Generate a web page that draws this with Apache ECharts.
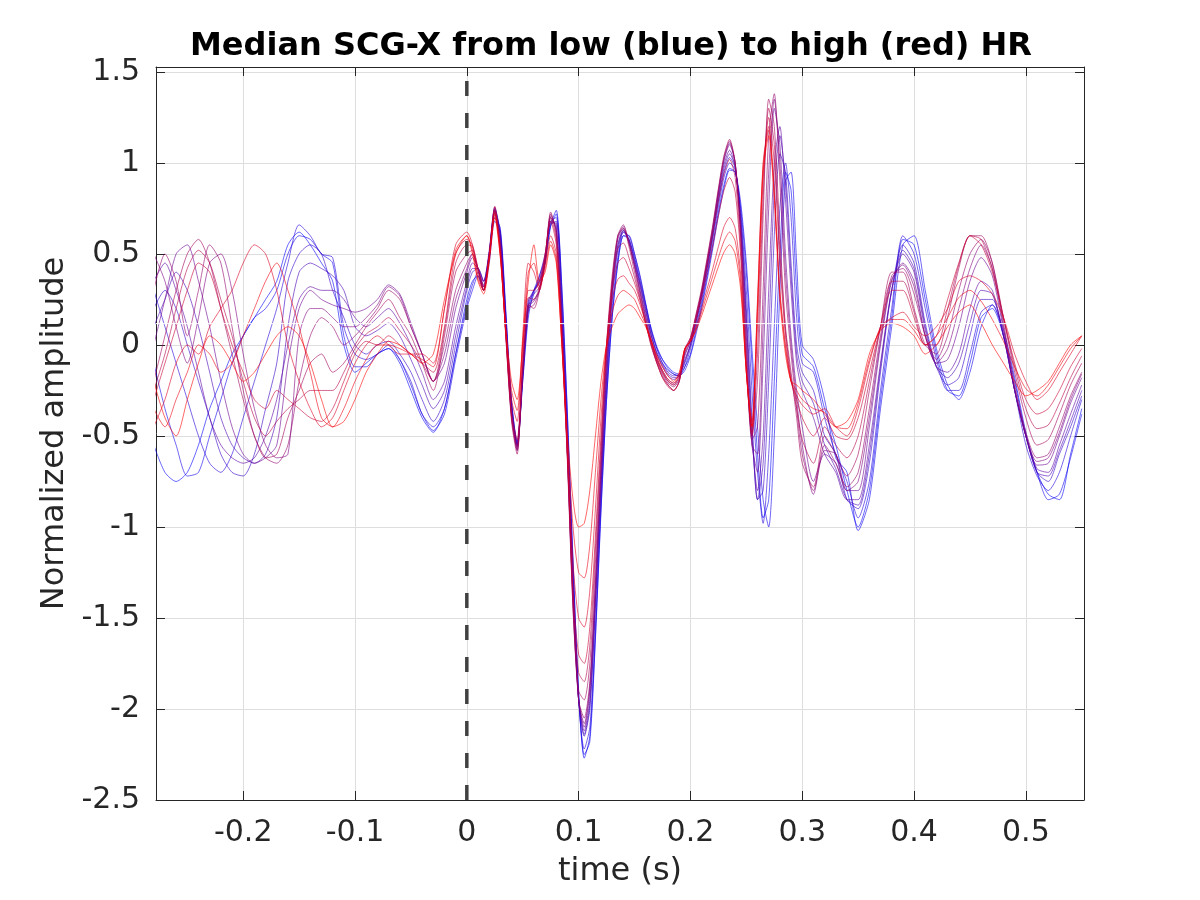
<!DOCTYPE html>
<html><head><meta charset="utf-8">
<script src="https://cdn.jsdelivr.net/npm/echarts@6/dist/echarts.min.js"></script>
<style>html,body{margin:0;padding:0;background:#fff}#c{width:1200px;height:900px}</style>
</head><body><div id="c"></div>
<script>
// time grid (s)
const timePre = [-0.28,-0.27,-0.26,-0.25,-0.24,-0.23,-0.22,-0.21,-0.20,-0.19,-0.18,-0.17,-0.16,-0.15,-0.14,-0.13,-0.12,-0.11,-0.10,-0.09,-0.08,-0.07,-0.06,-0.05,-0.04,-0.03,-0.02,-0.01];
const timePost = [0,0.005,0.01,0.015,0.02,0.025,0.03,0.035,0.04,0.045,
  0.05,0.055,0.06,0.065,0.07,0.075,0.08,0.085,0.09,0.095,
  0.1,0.105,0.11,0.115,0.12,0.125,0.13,0.135,0.14,0.145,
  0.15,0.155,0.16,0.165,0.17,0.175,0.18,0.185,0.19,0.195,
  0.2,0.205,0.21,0.215,0.22,0.225,0.23,0.235,0.24,0.245,
  0.25,0.255,0.26,0.265,0.27,0.275,0.28,0.285,0.29,0.295,
  0.3];
const timeTail = [0.31,0.32,0.33,0.34,0.35,0.36,0.37,0.38,0.39,0.40,0.41,0.42,0.43,0.44,0.45,0.46,0.47,0.48,0.49,0.50,0.51,0.52,0.53,0.54,0.55];

// median SCG-X per HR bin, s01 = lowest HR (blue) ... s15 = highest HR (red)
const s01 = [-0.55,-0.7,-0.75,-0.7,-0.55,-0.35,-0.2,-0.05,0.05,0.15,0.25,0.35,0.55,0.62,0.55,0.45,0.35,0.0,-0.15,-0.1,-0.05,-0.02,-0.1,-0.25,-0.4,-0.48,-0.35,-0.05,
  0.25,0.35,0.38,0.30,0.45,0.68,0.62,0.15,-0.35,-0.55,
  -0.15,0.2,0.3,0.35,0.45,0.65,0.72,0.3,-0.4,-1.2,
  -1.9,-2.27,-2.15,-1.6,-0.9,-0.3,0.15,0.45,0.6,0.58,
  0.48,0.35,0.22,0.08,-0.02,-0.08,-0.12,-0.15,-0.16,-0.12,
  -0.05,0.08,0.22,0.38,0.55,0.73,0.88,0.97,0.95,0.75,
  0.4,-0.1,-0.6,-0.95,-0.85,-0.2,0.5,0.95,0.85,0.3,
  -0.05,
  -0.12,-0.35,-0.55,-0.8,-1.0,-0.8,-0.3,0.15,0.58,0.55,0.25,-0.05,-0.25,-0.28,-0.1,0.15,0.2,0.05,-0.2,-0.5,-0.7,-0.82,-0.85,-0.6,-0.35];
const s02 = [-0.1,-0.35,-0.55,-0.72,-0.7,-0.5,-0.3,-0.1,0.05,0.15,0.2,0.3,0.5,0.6,0.58,0.5,0.45,0.05,-0.12,-0.12,-0.05,-0.02,-0.08,-0.22,-0.38,-0.47,-0.38,-0.08,
  0.2,0.3,0.38,0.3,0.47,0.7,0.64,0.18,-0.33,-0.56,
  -0.2,0.15,0.3,0.38,0.48,0.66,0.74,0.32,-0.38,-1.18,
  -1.92,-2.25,-2.18,-1.62,-0.92,-0.3,0.15,0.44,0.6,0.6,
  0.5,0.38,0.23,0.09,-0.01,-0.08,-0.13,-0.16,-0.17,-0.14,
  -0.06,0.06,0.2,0.36,0.53,0.71,0.86,0.96,0.95,0.78,
  0.45,-0.02,-0.45,-0.85,-1.0,-0.5,0.3,0.9,0.95,0.45,
  0.0,
  -0.08,-0.3,-0.62,-0.7,-1.02,-0.85,-0.35,0.1,0.55,0.6,0.3,-0.02,-0.22,-0.3,-0.15,0.1,0.22,0.08,-0.18,-0.48,-0.7,-0.85,-0.82,-0.62,-0.38];
const s03 = [0.3,0.1,-0.1,-0.3,-0.5,-0.65,-0.7,-0.6,-0.4,-0.2,0.0,0.2,0.45,0.66,0.6,0.5,0.48,0.1,-0.05,-0.08,-0.05,0.0,-0.08,-0.2,-0.38,-0.45,-0.35,-0.05,
  0.22,0.33,0.4,0.32,0.5,0.75,0.62,0.15,-0.3,-0.55,
  -0.2,0.18,0.28,0.38,0.5,0.68,0.7,0.25,-0.45,-1.25,
  -1.95,-2.22,-2.1,-1.55,-0.85,-0.25,0.2,0.48,0.62,0.6,
  0.5,0.37,0.22,0.08,-0.02,-0.1,-0.14,-0.16,-0.17,-0.12,
  -0.02,0.1,0.24,0.4,0.58,0.76,0.92,1.0,0.96,0.72,
  0.3,-0.25,-0.7,-0.98,-0.6,0.1,0.75,1.0,0.7,0.15,
  -0.1,
  -0.15,-0.4,-0.6,-0.75,-0.95,-0.75,-0.25,0.2,0.6,0.5,0.2,-0.08,-0.25,-0.25,-0.05,0.18,0.22,0.05,-0.25,-0.55,-0.72,-0.8,-0.7,-0.5,-0.3];
const s04 = [0.2,0.3,0.2,0.0,-0.2,-0.4,-0.6,-0.7,-0.72,-0.6,-0.35,-0.1,0.35,0.5,0.55,0.5,0.3,0.15,0.0,-0.05,0.0,0.02,-0.05,-0.15,-0.3,-0.42,-0.3,0.0,
  0.3,0.4,0.42,0.35,0.5,0.75,0.6,0.12,-0.32,-0.53,
  -0.18,0.22,0.3,0.36,0.48,0.66,0.68,0.2,-0.5,-1.3,
  -1.95,-2.15,-2.0,-1.45,-0.8,-0.2,0.25,0.52,0.62,0.58,
  0.47,0.34,0.2,0.06,-0.04,-0.1,-0.15,-0.17,-0.16,-0.1,
  0.0,0.12,0.26,0.42,0.6,0.79,0.95,1.03,0.97,0.7,
  0.2,-0.4,-0.85,-0.8,-0.2,0.6,1.05,0.95,0.45,0.0,
  -0.15,
  -0.25,-0.5,-0.6,-0.85,-0.9,-0.65,-0.15,0.3,0.55,0.45,0.12,-0.12,-0.22,-0.18,0.05,0.25,0.25,0.05,-0.25,-0.5,-0.7,-0.75,-0.6,-0.45,-0.28];
const s05 = [0.1,0.25,0.4,0.3,0.1,-0.15,-0.4,-0.55,-0.62,-0.65,-0.6,-0.4,0.1,0.4,0.45,0.42,0.38,0.3,0.1,0.05,0.08,0.12,0.05,-0.08,-0.22,-0.35,-0.25,0.05,
  0.32,0.42,0.42,0.35,0.5,0.74,0.6,0.12,-0.33,-0.54,
  -0.16,0.24,0.3,0.34,0.46,0.67,0.67,0.18,-0.52,-1.32,
  -1.95,-2.14,-1.98,-1.42,-0.78,-0.18,0.28,0.54,0.63,0.58,
  0.46,0.33,0.19,0.05,-0.05,-0.11,-0.16,-0.18,-0.17,-0.09,
  0.0,0.13,0.27,0.43,0.61,0.8,0.97,1.05,0.98,0.68,
  0.15,-0.45,-0.85,-0.65,0.05,0.85,1.15,0.9,0.38,-0.05,
  -0.2,
  -0.32,-0.55,-0.68,-0.85,-0.88,-0.6,-0.12,0.3,0.52,0.42,0.1,-0.12,-0.18,-0.1,0.12,0.3,0.28,0.05,-0.25,-0.5,-0.7,-0.72,-0.58,-0.42,-0.25];
const s06 = [0.35,0.45,0.3,0.1,-0.15,-0.4,-0.55,-0.62,-0.65,-0.62,-0.5,-0.3,0.0,0.25,0.32,0.3,0.3,0.25,0.15,0.1,0.15,0.2,0.12,0.0,-0.15,-0.3,-0.2,0.1,
  0.35,0.45,0.42,0.35,0.52,0.76,0.58,0.1,-0.35,-0.55,
  -0.15,0.25,0.28,0.32,0.45,0.68,0.66,0.15,-0.55,-1.35,
  -1.95,-2.12,-1.95,-1.4,-0.75,-0.15,0.3,0.55,0.63,0.57,
  0.45,0.32,0.18,0.05,-0.05,-0.12,-0.17,-0.19,-0.17,-0.08,
  0.0,0.13,0.28,0.44,0.62,0.82,0.99,1.07,0.98,0.66,
  0.12,-0.5,-0.8,-0.5,0.3,1.0,1.2,0.8,0.3,-0.1,
  -0.25,
  -0.4,-0.6,-0.7,-0.85,-0.85,-0.55,-0.1,0.3,0.5,0.4,0.08,-0.12,-0.15,-0.05,0.2,0.35,0.3,0.05,-0.25,-0.5,-0.68,-0.7,-0.55,-0.38,-0.22];
const s07 = [0.0,0.25,0.5,0.55,0.35,0.1,-0.2,-0.45,-0.6,-0.65,-0.62,-0.55,-0.1,0.2,0.3,0.25,0.22,0.2,0.18,0.2,0.25,0.33,0.28,0.12,-0.05,-0.2,-0.1,0.2,
  0.4,0.48,0.42,0.33,0.5,0.74,0.56,0.08,-0.38,-0.57,
  -0.15,0.22,0.25,0.3,0.45,0.7,0.64,0.12,-0.6,-1.4,
  -1.95,-2.1,-1.9,-1.35,-0.7,-0.1,0.32,0.58,0.64,0.56,
  0.44,0.3,0.16,0.03,-0.07,-0.14,-0.19,-0.21,-0.18,-0.06,
  0.02,0.14,0.28,0.45,0.63,0.83,1.01,1.1,1.0,0.64,
  0.05,-0.55,-0.7,-0.1,0.75,1.3,1.1,0.5,0.05,-0.25,
  -0.45,
  -0.75,-0.6,-0.65,-0.8,-0.8,-0.45,0.0,0.35,0.45,0.35,0.05,-0.1,-0.08,0.1,0.35,0.48,0.38,0.08,-0.25,-0.5,-0.66,-0.65,-0.5,-0.32,-0.18];
const s08 = [0.5,0.35,0.1,-0.1,0.15,0.45,0.5,0.3,-0.05,-0.35,-0.55,-0.62,-0.6,0.05,0.2,0.2,0.15,0.1,0.1,0.15,0.22,0.32,0.27,0.1,-0.05,-0.2,-0.05,0.25,
  0.42,0.5,0.42,0.32,0.49,0.74,0.55,0.06,-0.39,-0.58,
  -0.15,0.21,0.24,0.3,0.46,0.71,0.63,0.11,-0.61,-1.42,
  -1.95,-2.08,-1.88,-1.32,-0.68,-0.08,0.33,0.59,0.65,0.56,
  0.43,0.29,0.15,0.02,-0.08,-0.15,-0.2,-0.22,-0.19,-0.05,
  0.02,0.15,0.29,0.46,0.64,0.84,1.02,1.11,1.0,0.62,
  0.0,-0.55,-0.6,0.1,0.95,1.35,1.0,0.4,0.0,-0.3,
  -0.55,
  -0.82,-0.58,-0.6,-0.8,-0.75,-0.4,0.02,0.36,0.44,0.32,0.05,-0.1,-0.02,0.2,0.42,0.55,0.42,0.1,-0.24,-0.5,-0.64,-0.62,-0.48,-0.3,-0.16];
const s09 = [0.3,0.5,0.35,0.05,0.3,0.55,0.45,0.1,-0.25,-0.5,-0.62,-0.65,-0.55,-0.2,0.05,0.15,0.1,0.0,0.05,0.12,0.2,0.3,0.25,0.1,-0.05,-0.2,0.0,0.3,
  0.45,0.5,0.42,0.3,0.48,0.73,0.55,0.05,-0.4,-0.58,
  -0.15,0.2,0.22,0.3,0.46,0.72,0.62,0.1,-0.62,-1.45,
  -1.95,-2.05,-1.85,-1.3,-0.65,-0.05,0.35,0.6,0.66,0.56,
  0.43,0.28,0.14,0.01,-0.09,-0.16,-0.21,-0.23,-0.19,-0.04,
  0.03,0.16,0.3,0.47,0.65,0.85,1.03,1.12,1.0,0.6,
  -0.05,-0.52,-0.45,0.3,1.15,1.38,0.9,0.3,-0.05,-0.35,
  -0.6,
  -0.8,-0.55,-0.65,-0.78,-0.7,-0.35,0.05,0.38,0.42,0.28,0.05,-0.08,0.05,0.3,0.5,0.58,0.45,0.12,-0.22,-0.48,-0.62,-0.6,-0.45,-0.28,-0.15];
const s10 = [-0.2,0.05,0.3,0.5,0.58,0.45,0.2,-0.05,-0.3,-0.5,-0.62,-0.6,-0.4,-0.25,-0.1,-0.05,-0.15,-0.1,0.0,0.1,0.18,0.25,0.15,0.05,-0.1,-0.25,0.05,0.4,
  0.5,0.52,0.4,0.3,0.48,0.72,0.52,0.03,-0.42,-0.6,
  -0.12,0.22,0.2,0.3,0.48,0.73,0.6,0.05,-0.65,-1.45,
  -1.9,-1.95,-1.75,-1.2,-0.6,0.0,0.38,0.6,0.64,0.54,
  0.4,0.26,0.12,-0.01,-0.1,-0.17,-0.22,-0.25,-0.2,-0.02,
  0.04,0.17,0.31,0.48,0.66,0.86,1.04,1.13,1.0,0.58,
  -0.1,-0.5,-0.2,0.7,1.35,1.2,0.6,0.1,-0.15,-0.4,
  -0.65,
  -0.78,-0.5,-0.6,-0.72,-0.6,-0.25,0.1,0.4,0.4,0.2,0.0,-0.05,0.15,0.42,0.6,0.6,0.45,0.15,-0.15,-0.4,-0.55,-0.52,-0.38,-0.22,-0.1];
const s11 = [-0.25,-0.05,0.2,0.42,0.52,0.45,0.25,0.05,-0.2,-0.4,-0.5,-0.42,-0.35,-0.3,-0.25,-0.25,-0.25,-0.15,-0.02,0.06,0.1,0.15,0.08,0.0,-0.1,-0.2,0.08,0.45,
  0.55,0.54,0.42,0.3,0.48,0.73,0.51,0.04,-0.4,-0.56,
  -0.08,0.26,0.25,0.32,0.49,0.7,0.58,0.05,-0.62,-1.4,
  -1.8,-1.85,-1.65,-1.12,-0.55,0.0,0.34,0.53,0.56,0.48,
  0.37,0.25,0.12,0.0,-0.1,-0.18,-0.22,-0.25,-0.2,-0.03,
  0.04,0.16,0.29,0.45,0.61,0.79,0.94,1.02,0.92,0.52,
  -0.12,-0.5,-0.05,0.8,1.3,1.1,0.52,0.08,-0.18,-0.35,
  -0.52,
  -0.65,-0.45,-0.55,-0.62,-0.5,-0.2,0.1,0.35,0.35,0.18,0.0,0.0,0.2,0.44,0.6,0.58,0.42,0.15,-0.12,-0.35,-0.46,-0.44,-0.32,-0.18,-0.06];
const s12 = [-0.3,-0.1,0.1,0.3,0.45,0.4,0.2,0.0,-0.15,-0.3,-0.35,-0.25,-0.3,-0.35,-0.4,-0.42,-0.35,-0.2,-0.05,0.02,0.0,0.05,0.0,-0.05,-0.1,-0.15,0.1,0.5,
  0.58,0.55,0.42,0.32,0.48,0.74,0.5,0.05,-0.38,-0.52,
  -0.05,0.3,0.3,0.35,0.5,0.68,0.55,0.05,-0.6,-1.35,
  -1.7,-1.75,-1.55,-1.05,-0.5,0.0,0.3,0.45,0.48,0.42,
  0.34,0.24,0.12,0.0,-0.1,-0.18,-0.23,-0.25,-0.2,-0.03,
  0.03,0.14,0.26,0.4,0.55,0.71,0.85,0.92,0.84,0.48,
  -0.15,-0.48,0.1,0.9,1.25,1.0,0.45,0.05,-0.2,-0.3,
  -0.4,
  -0.5,-0.4,-0.5,-0.52,-0.4,-0.15,0.1,0.3,0.3,0.15,0.0,0.05,0.25,0.45,0.6,0.55,0.4,0.15,-0.1,-0.3,-0.38,-0.35,-0.25,-0.12,-0.02];
const s13 = [-0.45,-0.3,-0.1,0.0,-0.05,0.1,0.2,0.3,0.45,0.55,0.5,0.3,0.0,-0.2,-0.35,-0.45,-0.4,-0.25,-0.1,0.0,0.05,0.0,-0.05,-0.05,-0.05,-0.1,0.2,0.55,
  0.62,0.55,0.38,0.3,0.5,0.76,0.5,0.05,-0.3,-0.42,
  0.05,0.45,0.4,0.3,0.45,0.6,0.5,0.0,-0.6,-1.2,
  -1.5,-1.55,-1.35,-0.9,-0.4,0.0,0.25,0.36,0.38,0.34,
  0.3,0.22,0.12,0.02,-0.08,-0.15,-0.2,-0.22,-0.17,-0.02,
  0.02,0.1,0.2,0.31,0.42,0.54,0.65,0.7,0.64,0.38,
  -0.15,-0.42,0.25,1.0,1.2,0.85,0.3,0.0,-0.2,-0.28,
  -0.33,
  -0.38,-0.35,-0.45,-0.5,-0.35,-0.1,0.1,0.15,0.18,0.1,0.05,0.1,0.2,0.35,0.38,0.35,0.28,0.15,-0.05,-0.2,-0.3,-0.25,-0.15,-0.05,0.05];
const s14 = [-0.35,-0.45,-0.3,-0.15,0.0,-0.05,-0.15,-0.1,0.05,0.2,0.35,0.45,0.3,0.1,-0.15,-0.4,-0.45,-0.35,-0.2,-0.08,0.0,0.0,-0.02,-0.05,-0.08,-0.12,0.2,0.52,
  0.6,0.52,0.36,0.3,0.48,0.72,0.48,0.06,-0.25,-0.36,
  0.02,0.4,0.45,0.32,0.42,0.57,0.47,0.0,-0.55,-1.0,
  -1.25,-1.28,-1.1,-0.7,-0.3,0.0,0.18,0.27,0.3,0.28,
  0.25,0.18,0.11,0.02,-0.07,-0.14,-0.19,-0.21,-0.16,-0.02,
  0.02,0.09,0.18,0.28,0.38,0.48,0.57,0.62,0.57,0.34,
  -0.15,-0.45,0.22,0.98,1.18,0.82,0.28,-0.02,-0.2,-0.25,
  -0.3,
  -0.35,-0.37,-0.45,-0.46,-0.32,-0.08,0.09,0.14,0.14,0.08,0.0,0.05,0.15,0.26,0.3,0.24,0.14,0.02,-0.12,-0.24,-0.28,-0.22,-0.12,-0.02,0.05];
const s15 = [-0.2,-0.4,-0.5,-0.3,-0.1,0.05,0.0,-0.1,-0.2,-0.15,-0.05,0.05,0.1,0.05,-0.1,-0.3,-0.45,-0.42,-0.3,-0.15,-0.05,0.02,0.0,-0.05,-0.1,-0.05,0.25,0.5,
  0.6,0.5,0.35,0.28,0.45,0.7,0.48,0.08,-0.2,-0.3,
  0.0,0.35,0.55,0.35,0.4,0.55,0.45,0.0,-0.5,-0.85,
  -1.0,-0.98,-0.8,-0.5,-0.2,0.0,0.1,0.17,0.2,0.22,
  0.2,0.15,0.1,0.02,-0.06,-0.12,-0.17,-0.2,-0.15,-0.02,
  0.02,0.08,0.16,0.25,0.34,0.43,0.51,0.55,0.5,0.3,
  -0.15,-0.45,0.2,0.95,1.15,0.8,0.25,-0.05,-0.2,-0.22,
  -0.25,
  -0.3,-0.38,-0.45,-0.42,-0.3,-0.05,0.08,0.12,0.1,0.05,-0.05,0.0,0.1,0.18,0.22,0.12,0.0,-0.1,-0.2,-0.28,-0.25,-0.2,-0.1,0.0,0.05];

const xTicks = [-0.2,-0.1,0,0.1,0.2,0.3,0.4,0.5];
const yTicks = [-2.5,-2,-1.5,-1,-0.5,0,0.5,1,1.5];
const xRange = [-0.278, 0.552];
const yRange = [-2.5, 1.527];
const whiteLineY = 0.117;

const time = timePre.concat(timePost, timeTail);
const bins = [s01,s02,s03,s04,s05,s06,s07,s08,s09,s10,s11,s12,s13,s14,s15];
const FONT = 'DejaVu Sans';
const TXT = '#262626';

const series = bins.map((vals, i) => {
  const f = i / (bins.length - 1);
  const r = Math.round(255 * f), b = Math.round(255 * (1 - f));
  return {
    type: 'line', showSymbol: false, smooth: 0.25, silent: true,
    data: time.map((t, j) => [t, vals[j]]),
    lineStyle: { width: 1, color: `rgba(${r},0,${b},0.6)` },
    z: 2
  };
});
series.push({
  type: 'line', showSymbol: false, silent: true, z: 3,
  data: [[xRange[0], whiteLineY], [xRange[1], whiteLineY]],
  lineStyle: { width: 1, color: '#ffffff' }
});
series.push({
  type: 'line', showSymbol: false, silent: true, z: 4,
  data: [[0, yRange[0]], [0, yRange[1]]],
  lineStyle: { width: 3.5, color: '#404040', type: [15, 17] }
});

const chart = echarts.init(document.getElementById('c'), null, { renderer: 'canvas' });
const baseX = {
  type: 'value', min: xRange[0], max: xRange[1],
  axisLine: { show: true, onZero: false, lineStyle: { color: TXT, width: 1 } },
  axisTick: { show: true, inside: true, length: 9, customValues: xTicks, lineStyle: { color: TXT } },
};
const baseY = {
  type: 'value', min: yRange[0], max: yRange[1],
  axisLine: { show: true, onZero: false, lineStyle: { color: TXT, width: 1 } },
  axisTick: { show: true, inside: true, length: 9, customValues: yTicks, lineStyle: { color: TXT } },
};
chart.setOption({
  animation: false,
  backgroundColor: '#ffffff',
  title: {
    text: 'Median SCG-X from low (blue) to high (red) HR',
    left: 606, top: 26, textAlign: 'center',
    textStyle: { fontFamily: FONT, fontWeight: 'bold', fontSize: 32, color: '#000' }
  },
  grid: { left: 156, right: 116, top: 67, bottom: 100, containLabel: false },
  xAxis: [
    Object.assign({}, baseX, {
      position: 'bottom',
      name: 'time (s)', nameLocation: 'middle', nameGap: 56,
      nameTextStyle: { fontFamily: FONT, fontSize: 32, color: TXT },
      axisLabel: { customValues: xTicks, fontFamily: FONT, fontSize: 30, color: TXT, margin: 18 },
      splitLine: { show: true, lineStyle: { color: '#dedede', width: 1 } }
    }),
    Object.assign({}, baseX, {
      position: 'top', axisLabel: { show: false }, splitLine: { show: false }
    })
  ],
  yAxis: [
    Object.assign({}, baseY, {
      position: 'left',
      name: 'Normalized amplitude', nameLocation: 'middle', nameGap: 84,
      nameTextStyle: { fontFamily: FONT, fontSize: 32, color: TXT },
      axisLabel: { customValues: yTicks, fontFamily: FONT, fontSize: 30, color: TXT, margin: 16 },
      splitLine: { show: true, lineStyle: { color: '#dedede', width: 1 } }
    }),
    Object.assign({}, baseY, {
      position: 'right', axisLabel: { show: false }, splitLine: { show: false }
    })
  ],
  series: series
});
</script>
</body></html>
